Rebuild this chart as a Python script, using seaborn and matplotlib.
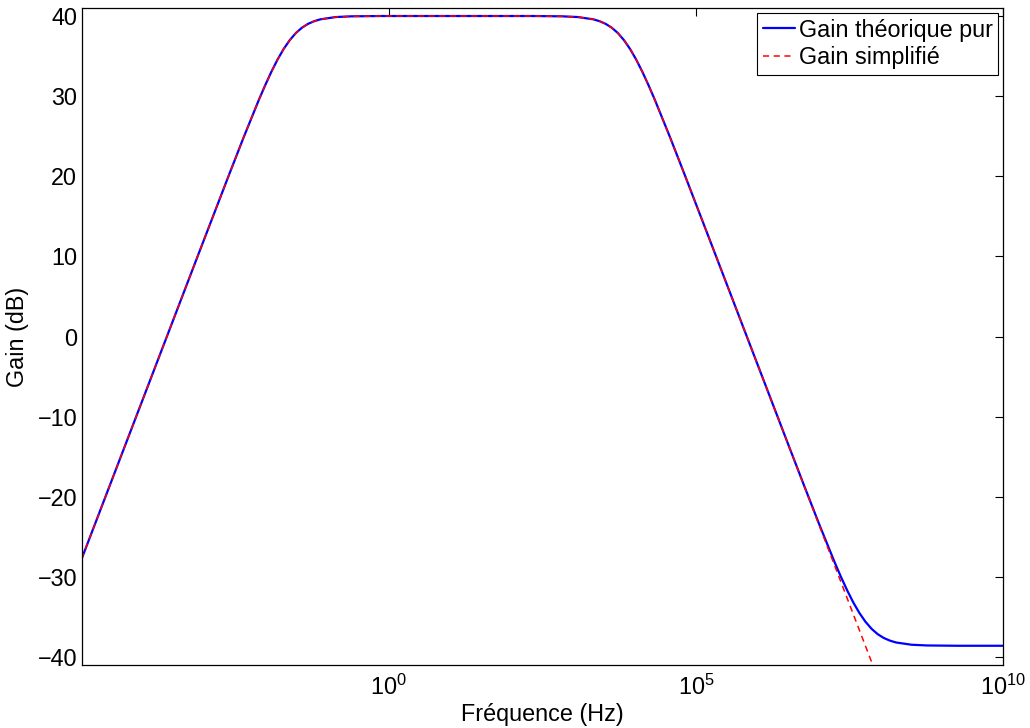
import numpy as np
import pandas as pd
import matplotlib
matplotlib.use("Agg")
import matplotlib.pyplot as plt
import seaborn as sns

# log10 of frequency (Hz)
log_freq = [-5, -4, -3.61, -3.11, -2.61, -2.36, -2.11, -2.01, -1.91, -1.81, -1.71,
            -1.61, -1.51, -1.41, -1.31, -1.21, -1.11, -0.86, -0.61, -0.11, 0.39, 1.0,
            1.83, 2.33, 2.83, 3.08, 3.33, 3.43, 3.53, 3.63, 3.73, 3.83, 3.93, 4.03,
            4.13, 4.23, 4.33, 4.58, 4.83, 5.33, 5.83, 6.5, 6.76, 7.01, 7.26, 7.36,
            7.46, 7.56, 7.66, 7.76, 7.86, 7.96, 8.06, 8.16, 8.26, 8.51, 8.76, 9.26, 10.0]

gain_pure = [-27.80, -7.80, 0.00, 10.00, 19.96, 24.87, 29.59, 31.36, 33.03, 34.55, 35.88,
             36.99, 37.88, 38.55, 39.03, 39.36, 39.59, 39.87, 39.96, 40.00, 40.00, 40.00,
             40.00, 40.00, 39.96, 39.87, 39.59, 39.36, 39.03, 38.55, 37.88, 36.99, 35.88, 34.55,
             33.03, 31.36, 29.59, 24.87, 19.96, 10.00, 0.00, -13.39, -18.56, -23.47, -28.19, -29.96,
             -31.63, -33.15, -34.48, -35.59, -36.48, -37.15, -37.63, -37.96, -38.19, -38.47, -38.56, -38.60, -38.60]

gain_simpl = [-27.80, -7.80, 0.00, 10.00, 19.96, 24.87, 29.59, 31.36, 33.03, 34.55, 35.88,
              36.99, 37.88, 38.55, 39.03, 39.36, 39.59, 39.87, 39.96, 40.00, 40.00, 40.00,
              40.00, 40.00, 39.96, 39.87, 39.59, 39.36, 39.03, 38.55, 37.88, 36.99, 35.88, 34.55,
              33.03, 31.36, 29.59, 24.87, 19.96, 10.00, 0.00, -13.40, -18.60, -23.60, -28.60, -30.60,
              -32.60, -34.60, -36.60, -38.60, -40.60, -42.60, -44.60, -46.60, -48.60, -53.60, -58.60, -68.60, -83.40]

series_names = ["Gain théorique pur", "Gain simplifié"]
x_ticks = [1e0, 1e5, 1e10]
x_tick_labels = ["$10^{0}$", "$10^{5}$", "$10^{10}$"]
y_ticks = [-40, -30, -20, -10, 0, 10, 20, 30, 40]

FS = 16.8

sns.set_theme(style="white")
plt.rcParams["font.family"] = ["Liberation Sans", "DejaVu Sans"]
plt.rcParams["mathtext.fontset"] = "custom"
plt.rcParams["mathtext.rm"] = "Liberation Sans"
plt.rcParams["mathtext.it"] = "Liberation Sans:italic"
plt.rcParams["axes.unicode_minus"] = True
plt.rcParams["text.color"] = "black"
plt.rcParams["axes.labelcolor"] = "black"

freq = np.power(10.0, log_freq)
df = pd.concat([
    pd.DataFrame({"f": freq, "g": gain_pure, "s": series_names[0]}),
    pd.DataFrame({"f": freq, "g": gain_simpl, "s": series_names[1]}),
])

fig = plt.figure(figsize=(10.3, 7.28), dpi=100)
ax = fig.add_axes([81.5 / 1030, 1 - 665 / 728, (1003 - 81.5) / 1030, (665 - 8) / 728])
ax.set_xscale("log")

sns.lineplot(data=df[df.s == series_names[0]], x="f", y="g", ax=ax, color="#0000ff",
             linewidth=1.6, label=series_names[0], sort=False)
sns.lineplot(data=df[df.s == series_names[1]], x="f", y="g", ax=ax, color="#ff0000",
             linewidth=1.1, linestyle=(0, (4, 3)), label=series_names[1], sort=False)

ax.set_xlim(1e-5, 1e10)
ax.set_ylim(-41, 41)
ax.set_xticks(x_ticks)
ax.set_xticklabels(x_tick_labels)
ax.xaxis.set_minor_locator(matplotlib.ticker.NullLocator())
ax.set_yticks(y_ticks)
ax.set_yticklabels([str(v).replace("-", "\u2212") for v in y_ticks])
ax.tick_params(axis="both", which="major", direction="in", length=6, width=0.8,
               top=True, right=True, labelsize=FS, colors="black")
ax.tick_params(axis="y", pad=3)
ax.tick_params(axis="x", pad=7)
for sp in ax.spines.values():
    sp.set_visible(True)
    sp.set_color("black")
    sp.set_linewidth(0.9)

ax.set_xlabel("Fréquence (Hz)", fontsize=FS, labelpad=2, color="black")
ax.set_ylabel("Gain (dB)", fontsize=FS, labelpad=6, color="black")

leg = ax.legend(loc="upper right", fontsize=FS, frameon=True, fancybox=False,
                edgecolor="black", framealpha=1, borderaxespad=0.2,
                handlelength=1.35, handletextpad=0.17, borderpad=0.25, labelspacing=0.2)
leg.get_frame().set_linewidth(0.8)
for t in leg.get_texts():
    t.set_color("black")

fig.savefig("out.png", dpi=100)
